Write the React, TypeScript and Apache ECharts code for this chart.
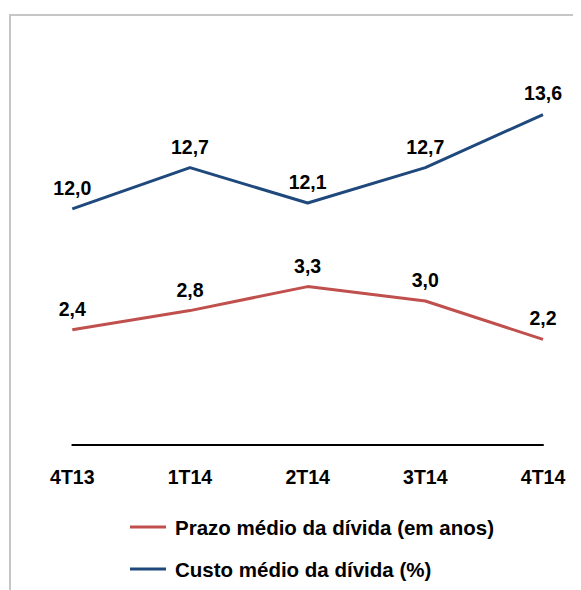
import React, { useEffect, useRef } from "react";
import * as echarts from "echarts";

const categories = ["4T13", "1T14", "2T14", "3T14", "4T14"];
const prazoMedio = [2.4, 2.8, 3.3, 3.0, 2.2];
const custoMedio = [12.0, 12.7, 12.1, 12.7, 13.6];
const seriesNames = ["Prazo médio da dívida (em anos)", "Custo médio da dívida (%)"];

const FONT = "'Liberation Sans', Arial, sans-serif";
const fmt = (p: any) => Number(p.value).toFixed(1).replace(".", ",");

export default function App() {
  const ref = useRef<HTMLDivElement>(null);
  useEffect(() => {
    if (!ref.current) return;
    const chart = echarts.init(ref.current, undefined, { renderer: "svg" });
    const labelCfg = {
      show: true,
      position: "top",
      distance: 11,
      formatter: fmt,
      color: "#000000",
      fontFamily: FONT,
      fontWeight: "bold",
      fontSize: 19.5,
    };
    chart.setOption({
      animation: false,
      backgroundColor: "#ffffff",
      textStyle: { fontFamily: FONT },
      graphic: [
        {
          type: "rect",
          shape: { x: 2, y: 7, width: 700, height: 700 },
          style: { fill: "none", stroke: "#c6c6c6", lineWidth: 2 },
          silent: true,
        },
      ],
      grid: { left: 64.3, right: 38, top: 77, bottom: 145 },
      xAxis: {
        type: "category",
        data: categories,
        boundaryGap: false,
        axisTick: { show: false },
        axisLine: { lineStyle: { color: "#000000", width: 2 } },
        axisLabel: {
          color: "#000000",
          fontFamily: FONT,
          fontWeight: "bold",
          fontSize: 19.5,
          margin: 22,
        },
        splitLine: { show: false },
      },
      yAxis: [
        { type: "value", min: 0, max: 7.5, show: false, splitLine: { show: false } },
        { type: "value", min: 8, max: 14.1, show: false, splitLine: { show: false } },
      ],
      legend: {
        orient: "vertical",
        left: 122,
        top: 508,
        padding: 0,
        itemGap: 20,
        itemWidth: 36,
        itemHeight: 3,
        icon: "rect",
        data: seriesNames,
        textStyle: {
          color: "#000000",
          fontFamily: FONT,
          fontWeight: "bold",
          fontSize: 20.5,
          lineHeight: 22,
          padding: [0, 0, 0, 4],
        },
      },
      series: [
        {
          name: seriesNames[0],
          type: "line",
          yAxisIndex: 0,
          data: prazoMedio,
          showSymbol: true,
          symbol: "circle",
          symbolSize: 0.1,
          lineStyle: { color: "#C0504D", width: 3 },
          itemStyle: { color: "#C0504D" },
          label: labelCfg,
        },
        {
          name: seriesNames[1],
          type: "line",
          yAxisIndex: 1,
          data: custoMedio,
          showSymbol: true,
          symbol: "circle",
          symbolSize: 0.1,
          lineStyle: { color: "#1F497D", width: 3 },
          itemStyle: { color: "#1F497D" },
          label: labelCfg,
        },
      ],
    });
    return () => chart.dispose();
  }, []);
  return <div ref={ref} style={{ width: 573, height: 582 }} />;
}
